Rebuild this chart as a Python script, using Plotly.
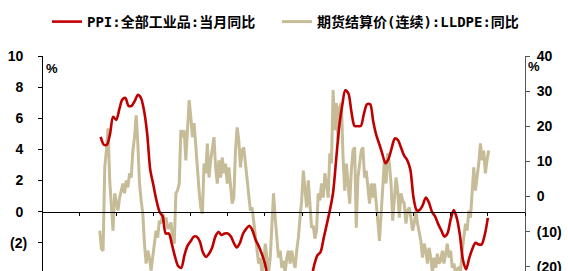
import pandas as pd
import plotly.graph_objects as go

# PPI: 全部工业品: 当月同比 (monthly, Jul 2010 - Dec 2020)
ppi_start = "2010-07-31"
ppi = [4.8, 4.3, 4.3, 5.0, 6.1, 5.9,
       6.6, 7.2, 7.3, 6.8, 6.8, 7.1, 7.5, 7.3, 6.5, 5.0, 2.7, 1.7,
       0.7, 0.0, -0.3, -1.4, -1.4, -2.1, -2.9, -3.5, -3.6, -2.8, -2.2, -1.9,
       -1.6, -1.6, -1.9, -2.6, -2.9, -2.7, -2.3, -1.6, -1.3, -1.5, -1.4, -1.4,
       -1.6, -2.0, -2.3, -2.0, -1.4, -1.1, -0.9, -1.2, -1.8, -2.2, -2.7, -3.3,
       -4.3, -4.8, -4.6, -4.6, -4.6, -4.8, -5.4, -5.9, -5.9, -5.9, -5.9, -5.9,
       -5.3, -4.9, -4.3, -3.4, -2.8, -2.6, -1.7, -0.8, 0.1, 1.2, 3.3, 5.5,
       6.9, 7.8, 7.6, 6.4, 5.5, 5.5, 5.5, 6.3, 6.9, 6.9, 5.8, 4.9,
       4.3, 3.7, 3.1, 3.4, 4.1, 4.7, 4.6, 4.1, 3.6, 3.3, 2.7, 0.9,
       0.1, 0.1, 0.4, 0.9, 0.6, 0.0, -0.3, -0.8, -1.2, -1.6, -1.4, -0.5,
       0.1, -0.4, -1.5, -3.1, -3.7, -3.0, -2.4, -2.0, -2.1, -2.1, -1.5, -0.4]

# 期货结算价(连续): LLDPE: 同比 (roughly semi-monthly)
lldpe_start = "2010-07-22"
lldpe_end = "2021-01-08"
lldpe = [
    -9.7, -14.9, -15.4, 8.3, 13.1, 19.4, 4.6, -3.1, -9.7, 0.9, -1.1, -4.0, -0.3, 1.7,
    3.7, 0.9, 4.6, 2.6, 6.6, 5.4, 13.1, 16.9, 23.1, 15.1, 3.7, -1.1, -4.9, -13.4,
    -19.1, -15.4, -17.4, -21.1, -16.3, -13.4, -9.7, -11.7, -6.9, -7.7, -4.9, -6.9, -6.0, -8.9,
    -8.9, -7.4, -11.7, -13.4, 0.9, 1.7, 3.7, 18.9, 16.9, 18.9, 10.3, 19.7, 27.4, 22.6,
    16.9, 20.9, 14.0, 6.6, 1.7, -3.1, -4.9, 9.4, 6.6, 15.1, 5.4, 10.3, 14.0, 16.9,
    8.3, 3.7, 10.3, 5.4, 11.1, 6.6, 9.4, 3.7, 8.3, 1.7, -2.0, -0.3, 13.1, 19.7,
    16.0, 8.3, 13.1, 14.0, 9.4, 5.4, 1.7, -4.0, -3.1, -6.9, -11.7, -15.4, -19.1, -17.4,
    -21.7, -19.1, -13.4, -17.4, -21.7, -17.4, -7.7, 0.9, -6.0, -11.7, -17.4, -15.4, -20.3, -18.3,
    -21.7, -17.4, -15.4, -19.1, -15.4, -18.3, -20.3, -15.4, -11.7, -6.0, -1.1, 7.4, 1.7,
    -3.1, 4.6, -2.0, -8.9, -8.3, -12.0, -9.7, 0.9, -1.1, 3.7, -0.3, 6.6, 3.7, -0.3,
    12.3, 9.4, 30.3, 18.9, 26.6, 16.0, 25.4, 26.6, 11.1, 1.7, 9.4, 3.7, -2.0, 7.4,
    13.1, 14.0, -8.9, 5.4, 10.3, 13.1, 14.0, 5.4, 7.4, 1.7, -2.0, 3.7, -0.3,
    3.7, -3.1, -6.9, -12.6, -4.0, 1.7, 10.3, 3.7, 12.3, 9.4, 3.7, -6.9, -1.1, 5.4,
    1.7, -6.0, 0.9, -1.1, -2.0, -7.7, -4.0, -3.1, -6.0, -9.7, -7.7, -4.0, -7.7, -9.7,
    -12.6, -17.4, -13.4, -15.4, -19.1, -14.6, -17.4, -21.7, -17.4, -20.3, -16.3, -19.1,
    -18.3, -15.4, -19.1, -16.3, -13.4, -17.4, -15.4, -20.3, -19.1, -21.7, -20.6, -20.3,
    -21.7, -15.4, -11.7, -7.7, -9.7, -4.0, -6.0, 0.9, 8.3, 1.7, 5.4, 9.4, 15.1, 10.3,
    13.1, 6.6, 10.3, 13.1]

left_ticks = [10, 8, 6, 4, 2, 0, -2]
left_text = ["10\u00a0", "8\u00a0", "6\u00a0", "4\u00a0", "2\u00a0", "0\u00a0", "(2)"]
right_ticks = [40, 30, 20, 10, 0, -10, -20]
right_text = ["40", "30", "20", "10", "0", "(10)", "(20)"]
year_ticks = [f"{y}-12-31" for y in range(2008, 2022)]

name_ppi = "PPI:全部工业品:当月同比"
name_lldpe = "期货结算价(连续):LLDPE:同比"

ppi_dates = pd.date_range(ppi_start, periods=len(ppi), freq="ME")
lldpe_dates = pd.date_range(lldpe_start, lldpe_end, periods=len(lldpe))

LEFT_MIN, LEFT_MAX = -3.81, 10
RIGHT_MIN, RIGHT_MAX = -21.2, 40
zero_pos = (0 - LEFT_MIN) / (LEFT_MAX - LEFT_MIN)

RED = "#C00000"
TAN = "#C6BC98"
tick_font = dict(family="Liberation Sans, Arial", size=14, color="#000000", weight="bold")
legend_font = dict(family="DejaVu Sans Mono, Noto Sans CJK SC", size=14,
                   color="#000000", weight="bold")

fig = go.Figure()
fig.add_trace(go.Scatter(x=list(lldpe_dates), y=lldpe, name=name_lldpe, mode="lines",
                         line=dict(color=TAN, width=3), xaxis="x", yaxis="y",
                         legend="legend2"))
fig.add_trace(go.Scatter(x=list(ppi_dates), y=ppi, name=name_ppi, mode="lines",
                         line=dict(color=RED, width=2.6, shape="spline", smoothing=0.8),
                         xaxis="x2", yaxis="y2", legend="legend"))

legend_common = dict(orientation="h", xref="container", yref="container",
                     xanchor="left", yanchor="middle", font=legend_font,
                     bgcolor="rgba(0,0,0,0)", itemwidth=30)

fig.update_layout(
    width=568, height=271,
    margin=dict(l=42, r=43, t=56, b=0, autoexpand=False),
    paper_bgcolor="white", plot_bgcolor="white",
    showlegend=True,
    legend=dict(x=47 / 568, y=1 - 22 / 271, **legend_common),
    legend2=dict(x=277 / 568, y=1 - 22 / 271, **legend_common),
    xaxis=dict(range=["2008-12-31", "2021-12-31"], showline=False, showticklabels=False,
               ticks="", showgrid=False, zeroline=False),
    xaxis2=dict(range=["2008-12-31", "2021-12-31"], overlaying="x", anchor="free",
                position=zero_pos, showline=True, linecolor="#000000", linewidth=1,
                ticks="outside", ticklen=3, tickcolor="#000000", tickvals=year_ticks,
                showticklabels=False, showgrid=False, zeroline=False),
    yaxis=dict(range=[RIGHT_MIN, RIGHT_MAX], side="right", anchor="x",
               showline=True, linecolor="#555555", linewidth=1,
               ticks="outside", ticklen=4, tickcolor="#555555",
               tickvals=right_ticks, ticktext=right_text, tickfont=tick_font,
               ticklabelstandoff=4, ticklabeloverflow="allow",
               showgrid=False, zeroline=False, automargin=False),
    yaxis2=dict(range=[LEFT_MIN, LEFT_MAX], side="left", overlaying="y", anchor="free",
                position=0, showline=True, linecolor="#000000", linewidth=1,
                ticks="outside", ticklen=4, tickcolor="#000000",
                tickvals=left_ticks, ticktext=left_text, tickfont=tick_font,
                ticklabelstandoff=8, ticklabeloverflow="allow",
                showgrid=False, zeroline=False, automargin=False),
    annotations=[
        dict(text="%", x=0, xref="paper", xanchor="left", xshift=2, y=1, yref="paper",
             yanchor="top", yshift=-3, showarrow=False,
             font=dict(family="Liberation Sans, Arial", size=13, color="#000", weight="bold")),
        dict(text="%", x=1, xref="paper", xanchor="left", xshift=1, y=1, yref="paper",
             yanchor="top", yshift=-1, showarrow=False,
             font=dict(family="Liberation Sans, Arial", size=13, color="#000", weight="bold")),
        dict(text="(4)", x=0, xref="paper", xanchor="right", xshift=-11, y=-4, yref="y2",
             yanchor="middle", yshift=2, showarrow=False, font=tick_font),
    ],
)

fig.write_html("out.html", config={"displayModeBar": False},
               post_script="document.body.style.margin='0px';")
